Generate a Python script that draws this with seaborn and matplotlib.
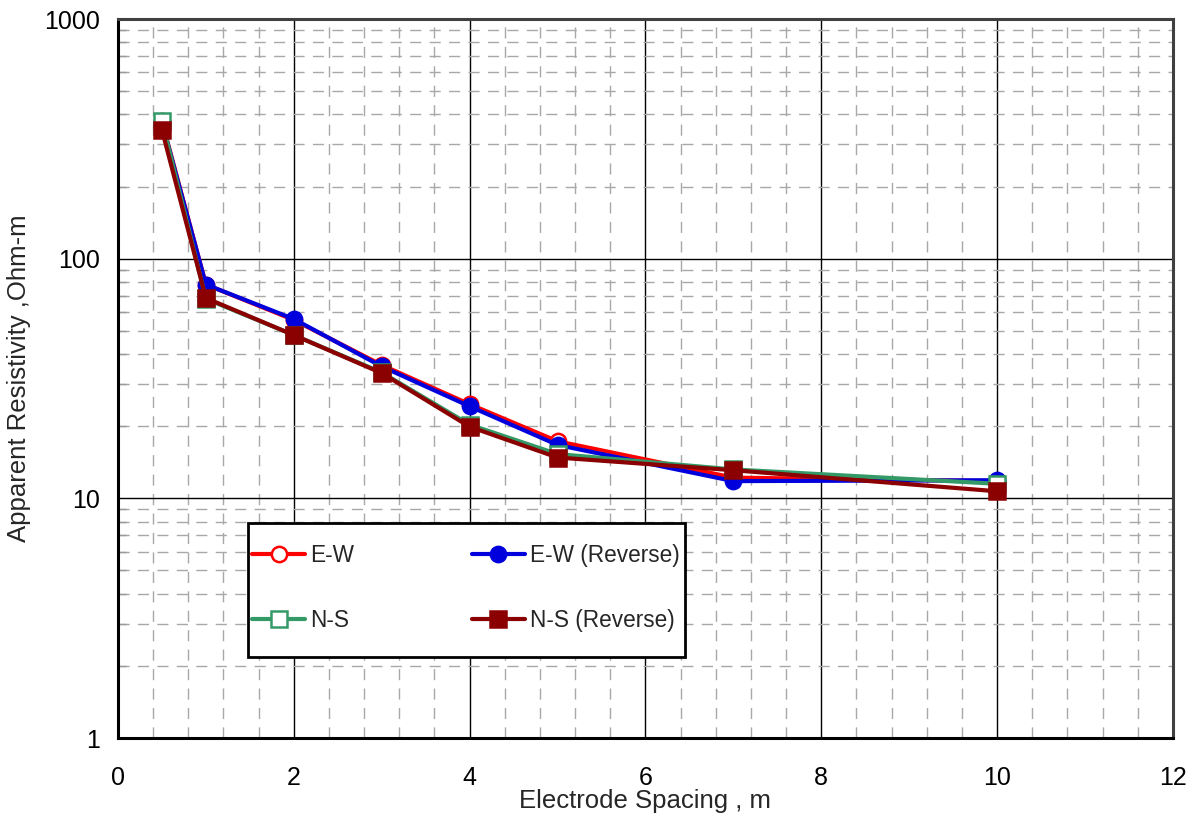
import numpy as np
import pandas as pd
import matplotlib
matplotlib.use('Agg')
import matplotlib.pyplot as plt
import seaborn as sns
from matplotlib.patches import Rectangle
from matplotlib.ticker import MultipleLocator, LogLocator, NullFormatter, FixedLocator, FixedFormatter

# DATA
spacing = [0.5, 1, 2, 3, 4, 5, 7, 10]
ew = [375, 78, 55.5, 36, 24.7, 17.3, 12.2, 11.8]
ew_rev = [370, 78, 56, 35.5, 24.2, 16.7, 11.8, 11.9]
ns = [375, 68, 48, 33.5, 20.3, 15.3, 13.2, 11.5]
ns_rev = [345, 68.5, 48, 33.3, 19.9, 14.8, 13.1, 10.7]

sns.set_style('white')
plt.rcParams['font.family'] = ['Liberation Sans', 'DejaVu Sans']

fig = plt.figure(figsize=(11.94, 8.19), dpi=100)
ax = fig.add_axes([0.0988, 0.0989, 0.8836, 0.8779])

series = [
    ('E-W', ew, '#FF0000', 'o', 'white'),
    ('E-W (Reverse)', ew_rev, '#0000DD', 'o', '#0000DD'),
    ('N-S', ns, '#339966', 's', 'white'),
    ('N-S (Reverse)', ns_rev, '#8B0000', 's', '#8B0000'),
]

for name, vals, col, mk, fc in series:
    df = pd.DataFrame({'x': spacing, 'y': vals})
    sns.lineplot(data=df, x='x', y='y', ax=ax, color=col, linewidth=3,
                 marker=mk, markersize=11, markerfacecolor=fc,
                 markeredgecolor=col, markeredgewidth=1.8, label=name)

ax.set_yscale('log')
ax.set_xlim(0, 12)
ax.set_ylim(1, 1000)

# TICKS
ax.xaxis.set_major_locator(MultipleLocator(2))
ax.xaxis.set_minor_locator(MultipleLocator(0.4))
ax.yaxis.set_major_locator(FixedLocator([1, 10, 100, 1000]))
ax.yaxis.set_major_formatter(FixedFormatter(['1', '10', '100', '1000']))
ax.yaxis.set_minor_locator(LogLocator(base=10, subs=np.arange(2, 10)))
ax.yaxis.set_minor_formatter(NullFormatter())

ax.tick_params(axis='both', which='major', direction='inout', length=14,
               width=2, labelsize=18, colors='black')
ax.tick_params(axis='x', which='major', pad=13)
ax.tick_params(axis='y', which='major', pad=6)
ax.tick_params(axis='y', which='minor', direction='in', length=6,
               width=1, color='#999999', left=True)
ax.tick_params(axis='x', which='minor', length=0)

# GRID
ax.grid(True, which='major', color='black', linewidth=1, linestyle='-')
ax.grid(True, which='minor', color='#a8a8a8', linewidth=1,
        linestyle=(0, (8, 6)))
ax.set_axisbelow(True)

for side in ['left', 'bottom']:
    ax.spines[side].set_color('black')
    ax.spines[side].set_linewidth(2.2)
for side in ['top', 'right']:
    ax.spines[side].set_color('#404040')
    ax.spines[side].set_linewidth(2.2)

ax.set_xlabel('Electrode Spacing , m', fontsize=18.5)
ax.set_ylabel('Apparent Resistivity ,Ohm-m', fontsize=18.5)
ax.xaxis.set_label_coords(0.5, -0.071)
ax.yaxis.set_label_coords(-0.0825, 0.5)

# LEGEND (own frame, items laid out in rows)
ax.add_patch(Rectangle((0.1232, 0.1127), 0.4142, 0.1864, transform=ax.transAxes,
                       facecolor='white', edgecolor='black', linewidth=2,
                       zorder=4.5))
h, labs = ax.get_legend_handles_labels()
order = [0, 2, 1, 3]
ax.legend([h[i] for i in order], [labs[i] for i in order],
          loc='center left', bbox_to_anchor=(0.127, 0.2086), ncol=2,
          fontsize=16.3, frameon=False, labelspacing=1.87, handlelength=2.35,
          handletextpad=0.22, columnspacing=5.2, borderaxespad=0, borderpad=0)

fig.savefig('out.png', dpi=100)
